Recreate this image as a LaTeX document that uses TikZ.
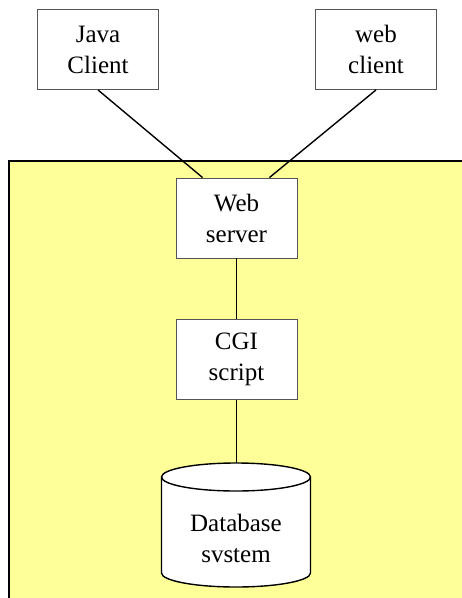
\documentclass[tikz,border=0pt]{standalone}
\usepackage{fontspec}
\setmainfont{Liberation Serif}
\definecolor{paleyellow}{HTML}{FFFF99}
\definecolor{boxgray}{HTML}{555555}
\begin{document}
\begin{tikzpicture}[x=1pt,y=-1pt,
  box/.style={draw=boxgray, fill=white, line width=0.9pt, minimum width=121pt, minimum height=80pt,
    inner sep=0pt, align=center, font=\fontsize{25}{31}\selectfont},
  link/.style={draw=black, line width=1.4pt},
  lbl/.style={align=center, font=\fontsize{25}{31}\selectfont, inner sep=0pt}]
\useasboundingbox (0,0) rectangle (462,598);
\fill[paleyellow] (9,161) rectangle (462,598);
\draw[line width=2.2pt] (9,598) -- (9,161) -- (462,161);

\node[box] (java) at (98,49.5) {Java\\Client};
\node[box] (webc) at (376,49.5) {web\\client};
\node[box] (ws) at (236.5,218) {Web\\server};
\node[box] (cgi) at (236.5,359.5) {CGI\\script};

% database cylinder
\draw[link, fill=white] (161.5,477) -- (161.5,573) arc[start angle=180,end angle=360,x radius=74.5pt,y radius=14pt]
  -- (310.5,477) arc[start angle=0,end angle=180,x radius=74.5pt,y radius=14pt] -- cycle;
\draw[link] (161.5,477) arc[start angle=180,end angle=360,x radius=74.5pt,y radius=14pt];
\coordinate (dbtop) at (236.5,463);
\node[lbl] (db) at (236,538) {Database\\svstem};

\draw[link] (java.south) -- ([xshift=27pt]ws.north west);
\draw[link] (webc.south) -- ([xshift=-28pt]ws.north east);
\draw[link] (ws.south) -- (cgi.north);
\draw[link] (cgi.south) -- (dbtop);
\end{tikzpicture}
\end{document}
